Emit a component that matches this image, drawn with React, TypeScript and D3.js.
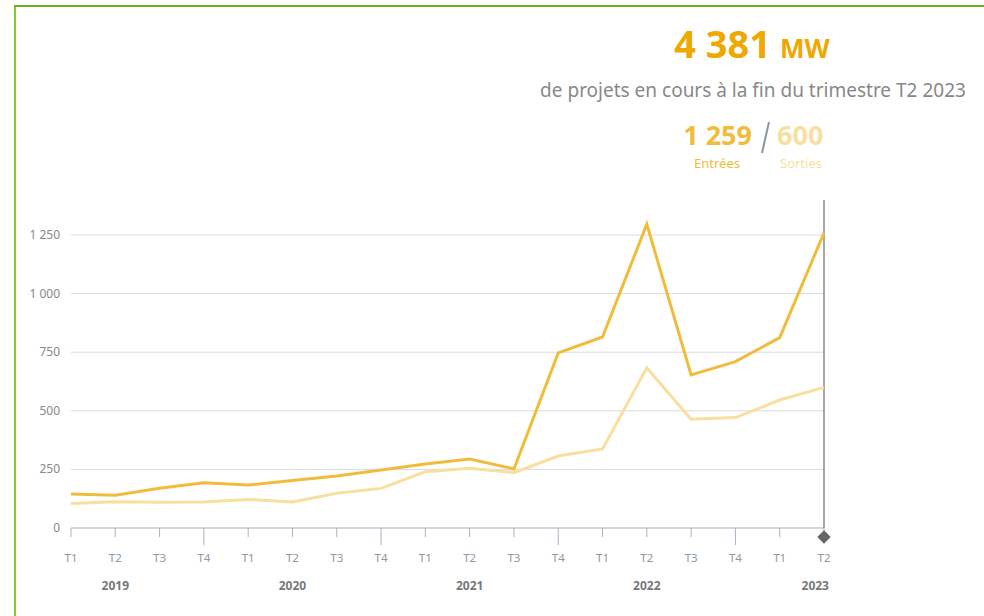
import { useEffect, useRef } from "react";
import * as d3 from "d3";

const quarters = ["T1", "T2", "T3", "T4", "T1", "T2", "T3", "T4", "T1", "T2", "T3", "T4", "T1", "T2", "T3", "T4", "T1", "T2"];
const years = ["2019", "2020", "2021", "2022", "2023"];
const entrees = [145, 140, 170, 193, 183, 203, 222, 247, 273, 294, 252, 747, 815, 1296, 653, 710, 812, 1259];
const sorties = [105, 112, 110, 111, 122, 111, 148, 169, 240, 255, 236, 307, 337, 683, 464, 471, 546, 600];
const yTicks = [0, 250, 500, 750, 1000, 1250];

const darkColor = "#f0bc3c";
const lightColor = "#f8dfa0";
const font = "'Noto Sans', 'Open Sans', sans-serif";

function App() {
  const svgRef = useRef<SVGSVGElement>(null);

  useEffect(() => {
    const svg = d3.select(svgRef.current);
    svg.selectAll("*").remove();

    const x = d3.scaleLinear().domain([0, quarters.length - 1]).range([71, 824]);
    const y = d3.scaleLinear().domain([0, 1250]).range([528, 235]);
    const fmt = (v: number) => d3.format(",")(v).replace(",", " ");

    // frame
    svg.append("line").attr("x1", 15).attr("x2", 15).attr("y1", 5).attr("y2", 616)
      .attr("stroke", "#86c92c").attr("stroke-width", 2);
    svg.append("line").attr("x1", 14).attr("x2", 984).attr("y1", 6).attr("y2", 6)
      .attr("stroke", "#6fad2a").attr("stroke-width", 2);

    // grid + y labels
    const g = svg.append("g");
    yTicks.forEach((t) => {
      if (t > 0) {
        g.append("line").attr("x1", 71).attr("x2", 824).attr("y1", y(t)).attr("y2", y(t))
          .attr("stroke", "#d6dae2").attr("stroke-width", 1);
      }
      g.append("text").attr("x", 60).attr("y", y(t) + 4).attr("text-anchor", "end")
        .attr("font-family", font).attr("font-size", 12).attr("fill", "#888").text(fmt(t));
    });

    // x axis
    g.append("line").attr("x1", 71).attr("x2", 824).attr("y1", 528).attr("y2", 528)
      .attr("stroke", "#c4cad4").attr("stroke-width", 1.5);
    quarters.forEach((q, i) => {
      const long = q === "T4";
      g.append("line").attr("x1", x(i)).attr("x2", x(i)).attr("y1", 528).attr("y2", long ? 545 : 537)
        .attr("stroke", "#aab2be").attr("stroke-width", 1);
      g.append("text").attr("x", x(i)).attr("y", 562).attr("text-anchor", "middle")
        .attr("font-family", font).attr("font-size", 11.5).attr("fill", "#8c99a6").text(q);
    });
    years.forEach((yr, k) => {
      const i = k * 4 + 1;
      const last = k === years.length - 1;
      g.append("text").attr("x", last ? x(i) + 5 : x(i)).attr("y", 590)
        .attr("text-anchor", last ? "end" : "middle")
        .attr("font-family", font).attr("font-size", 12).attr("font-weight", "bold")
        .attr("fill", "#777").text(yr);
    });

    // crosshair at last point
    g.append("line").attr("x1", 824).attr("x2", 824).attr("y1", 200).attr("y2", 528)
      .attr("stroke", "#8a8a8a").attr("stroke-width", 1.5);
    g.append("path").attr("d", d3.symbol(d3.symbolSquare, 90)())
      .attr("transform", `translate(824,537) rotate(45)`).attr("fill", "#666");

    const line = d3.line<number>().x((_, i) => x(i)).y((d) => y(d));
    g.append("path").datum(sorties).attr("d", line).attr("fill", "none")
      .attr("stroke", lightColor).attr("stroke-width", 3);
    g.append("path").datum(entrees).attr("d", line).attr("fill", "none")
      .attr("stroke", darkColor).attr("stroke-width", 3);

    // header
    const t = svg.append("text").attr("x", 752).attr("y", 58).attr("text-anchor", "middle")
      .attr("font-family", font).attr("font-weight", "bold").attr("fill", "#eea800");
    t.append("tspan").attr("font-size", 38).text(fmt(4381));
    t.append("tspan").attr("font-size", 26).attr("dx", 9).text("MW");

    svg.append("text").attr("x", 753).attr("y", 97).attr("text-anchor", "middle")
      .attr("font-family", font).attr("font-size", 19).attr("fill", "#888")
      .text("de projets en cours à la fin du trimestre T2 2023");

    svg.append("text").attr("x", 752).attr("y", 145).attr("text-anchor", "end")
      .attr("font-family", font).attr("font-size", 27).attr("font-weight", "bold")
      .attr("fill", darkColor).text(fmt(entrees[entrees.length - 1]));
    svg.append("line").attr("x1", 769).attr("x2", 762).attr("y1", 122).attr("y2", 153)
      .attr("stroke", "#8a96a4").attr("stroke-width", 2);
    svg.append("text").attr("x", 777).attr("y", 145).attr("text-anchor", "start")
      .attr("font-family", font).attr("font-size", 27).attr("font-weight", "bold")
      .attr("fill", lightColor).text(fmt(sorties[sorties.length - 1]));
    svg.append("text").attr("x", 717).attr("y", 168).attr("text-anchor", "middle")
      .attr("font-family", font).attr("font-size", 13).attr("fill", darkColor).text("Entrées");
    svg.append("text").attr("x", 801).attr("y", 168).attr("text-anchor", "middle")
      .attr("font-family", font).attr("font-size", 13).attr("fill", lightColor).text("Sorties");
  }, []);

  return (
    <svg ref={svgRef} width={984} height={616}
      style={{ position: "absolute", left: 0, top: 0, background: "#fff" }} />
  );
}

export default App;
